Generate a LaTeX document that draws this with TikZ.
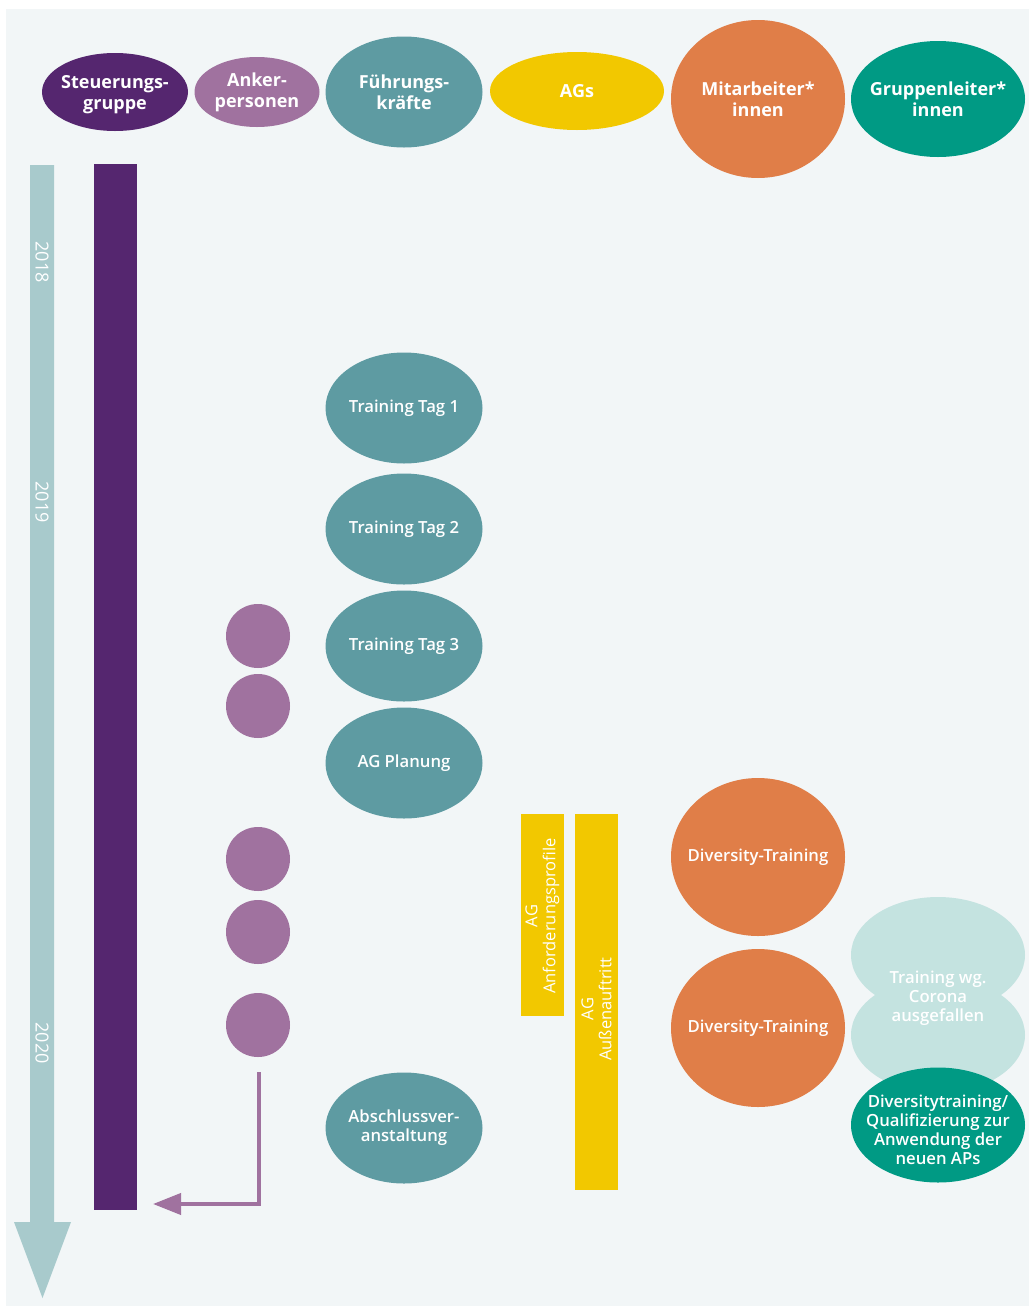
\documentclass[tikz,border=0pt]{standalone}
\usepackage{fontspec}
\setmainfont{Open Sans}
\newfontfamily\semi{Open Sans Semibold}
\usetikzlibrary{shapes.geometric,arrows.meta}
\definecolor{bgc}{HTML}{F2F6F7}
\definecolor{stg}{HTML}{55266F}
\definecolor{ank}{HTML}{A0729F}
\definecolor{fkc}{HTML}{5E9BA2}
\definecolor{agc}{HTML}{F2C800}
\definecolor{mac}{HTML}{E07E48}
\definecolor{glc}{HTML}{009A84}
\definecolor{cor}{HTML}{C4E3E0}
\definecolor{tlc}{HTML}{A8CACC}
\tikzset{
  headlbl/.style={text=white, align=center, inner sep=0pt,
    font=\fontsize{18}{21}\selectfont\bfseries},
  bublbl/.style={text=white, align=center, inner sep=0pt,
    font=\fontsize{16.7}{19}\selectfont\semi},
  ell/.style={ellipse, inner sep=0pt},
  bigell/.style={ell, minimum width=174pt, minimum height=158pt},
  fkell/.style={ell, fill=fkc, minimum width=157pt, minimum height=111pt},
  dot/.style={circle, fill=ank, minimum size=64pt, inner sep=0pt},
  bar/.style={rectangle, inner sep=0pt},
  rottext/.style={rotate=90, text=white, align=center,
    font=\fontsize{16.5}{18}\selectfont},
  year/.style={rotate=-90, text=white, font=\fontsize{18}{20}\selectfont},
}
\begin{document}
\begin{tikzpicture}[x=1pt,y=-1pt]
\useasboundingbox (0,0) rectangle (1029,1307);
\fill[white] (0,0) rectangle (1029,1307);
\fill[bgc] (6,9) rectangle (1029,1306);

% header
\node[ell, fill=stg, minimum width=146pt, minimum height=78pt,
  label={[headlbl, yshift=-2.5pt]center:Steuerungs-\\gruppe}] (hstg) at (115,92) {};
\node[ell, fill=ank, minimum width=125pt, minimum height=70pt,
  label={[headlbl]center:Anker-\\personen}] (hank) at (257,92) {};
\node[ell, fill=fkc, minimum width=157pt, minimum height=111pt,
  label={[headlbl]center:Führungs-\\kräfte}] (hfk) at (404,92) {};
\node[ell, fill=agc, minimum width=174pt, minimum height=78pt,
  label={[headlbl]center:AGs}] (hag) at (577,91) {};
\node[ell, fill=mac, minimum width=174pt, minimum height=158pt,
  label={[headlbl]center:Mitarbeiter*\\innen}] (hma) at (758,99) {};
\node[ell, fill=glc, minimum width=174pt, minimum height=116pt,
  label={[headlbl]center:Gruppenleiter*\\innen}] (hgl) at (938,99) {};

% timeline arrow
\fill[tlc] (30,165) -- (54,165) -- (54,1222) -- (71,1222) -- (42.5,1298) -- (14,1222) -- (30,1222) -- cycle;
\node[year] (y18) at (42,262) {2018};
\node[year] (y19) at (42,502) {2019};
\node[year] (y20) at (42,1043) {2020};

% Steuerungsgruppe bar
\node[bar, fill=stg, minimum width=43pt, minimum height=1046pt] (sbar) at (115.5,687) {};

% Führungskräfte
\node[fkell, label={[bublbl]center:Training Tag 1}] (t1) at (404,408) {};
\node[fkell, label={[bublbl]center:Training Tag 2}] (t2) at (404,529) {};
\node[fkell, label={[bublbl]center:Training Tag 3}] (t3) at (404,646) {};
\node[fkell, label={[bublbl]center:AG Planung}] (agp) at (404,763) {};
\node[fkell, label={[bublbl]center:Abschlussver-\\anstaltung}] (absch) at (404,1128) {};

% Ankerpersonen
\node[dot] (a1) at (258,636) {};
\node[dot] (a2) at (258,706) {};
\node[dot] (a3) at (258,859) {};
\node[dot] (a4) at (258,932) {};
\node[dot] (a5) at (258,1025) {};
\coordinate (ankS) at (259,1072);
\coordinate (barR) at (153,1204);
\draw[ank, line width=4pt, -{Triangle[length=28pt,width=21pt]}] (ankS) |- (barR);

% AGs
\node[bar, fill=agc, minimum width=43pt, minimum height=202pt] (agA) at (542.5,915) {};
\node[rottext] (agAt) at (542.5,916) {AG\\Anforderungsprofile};
\node[bar, fill=agc, minimum width=43pt, minimum height=376pt] (agB) at (596.5,1002) {};
\node[rottext] (agBt) at (596.5,1009) {AG\\Außenauftritt};

% Mitarbeiter
\node[bigell, fill=mac, label={[bublbl]center:Diversity-Training}] (dt1) at (758,857) {};
\node[bigell, fill=mac, label={[bublbl]center:Diversity-Training}] (dt2) at (758,1028) {};

% Gruppenleiter
\node[ell, fill=cor, minimum width=174pt, minimum height=116pt] (c1) at (938,955) {};
\node[ell, fill=cor, minimum width=174pt, minimum height=116pt] (c2) at (938,1035) {};
\node[bublbl] (ct) at (938,998.5) {Training wg.\\Corona\\ausgefallen};
\node[ell, fill=glc, minimum width=174pt, minimum height=115pt,
  label={[bublbl, yshift=-5pt]center:Diversitytraining/\\Qualifizierung zur\\Anwendung der\\neuen APs}] (qual) at (938,1125) {};
\end{tikzpicture}
\end{document}
